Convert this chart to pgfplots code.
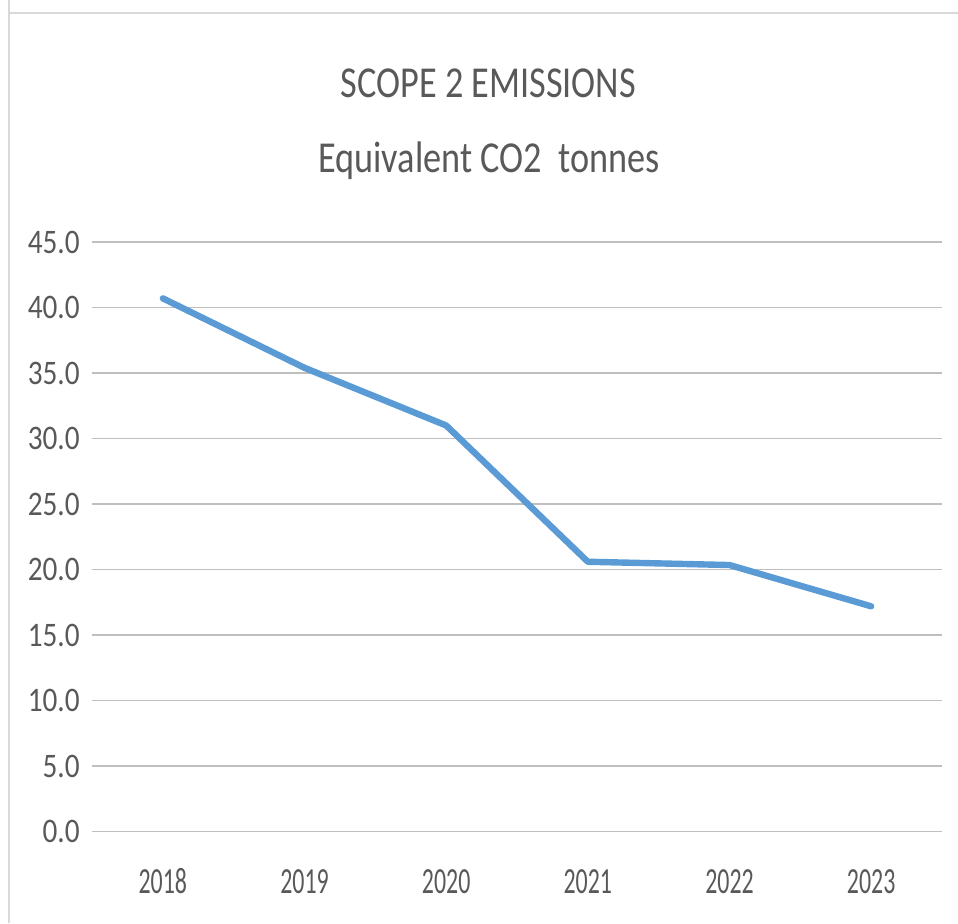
\documentclass[border=0pt]{standalone}
\usepackage{pgfplots}
\pgfplotsset{compat=1.18}
\usepackage{fontspec}
\setmainfont{Carlito}
\newfontfamily\titlefont{Carlito}[FakeStretch=0.82]
\newfontfamily\tickfont{Carlito}[FakeStretch=0.85]
\newfontfamily\yearfont{Carlito}[FakeStretch=0.65]
\definecolor{txt}{HTML}{595959}
\definecolor{grid}{HTML}{D9D9D9}
\definecolor{lineblue}{HTML}{5B9BD5}
\begin{document}
\begin{tikzpicture}[x=0.5pt,y=0.5pt]
\begin{axis}[
  name=ax,
  at={(0,0)}, anchor=south west,
  scale only axis, width=425pt, height=294.85pt,
  xmin=-0.5, xmax=5.5, ymin=0, ymax=45,
  axis line style={draw=none},
  tick style={draw=none},
  major tick length=0pt,
  ytick={0,5,...,45},
  ymajorgrids=true, xmajorgrids=false,
  grid style={grid, line width=0.75pt},
  xtick={0,...,5},
  xticklabels={2018,2019,2020,2021,2022,2023},
  /pgf/number format/assume math mode=true,
  yticklabel={\pgfmathprintnumber[fixed,fixed zerofill,precision=1]{\tick}},
  yticklabel style={txt, font=\tickfont\fontsize{17.2}{20}\selectfont, anchor=east, xshift=-6pt, inner sep=0pt},
  xticklabel style={txt, font=\yearfont\fontsize{18.4}{20}\selectfont, anchor=base, yshift=-31pt, inner sep=0pt},
  clip=false,
]
\addplot[lineblue, line width=3.2pt, line join=round, line cap=round] coordinates {
  (0,40.7) (1,35.4) (2,31.0) (3,20.6) (4,20.35) (5,17.2)
};
\end{axis}
\begin{scope}[shift={(-92,-91.3)}]
\draw[grid, line width=1.25pt] (9,923) -- (9,910) -- (958,910);
\draw[grid, line width=1.25pt] (9,910) -- (9,0);
\node[txt, anchor=base, font=\titlefont\fontsize{22.1}{26}\selectfont, inner sep=0pt] at (488.5,825) {SCOPE 2 EMISSIONS};
\node[txt, anchor=base, font=\titlefont\fontsize{22.1}{26}\selectfont, inner sep=0pt] at (489,750) {Equivalent CO2\ \ tonnes};
\pgfresetboundingbox
\useasboundingbox (0,0) rectangle (958,923);
\end{scope}
\end{tikzpicture}
\end{document}
